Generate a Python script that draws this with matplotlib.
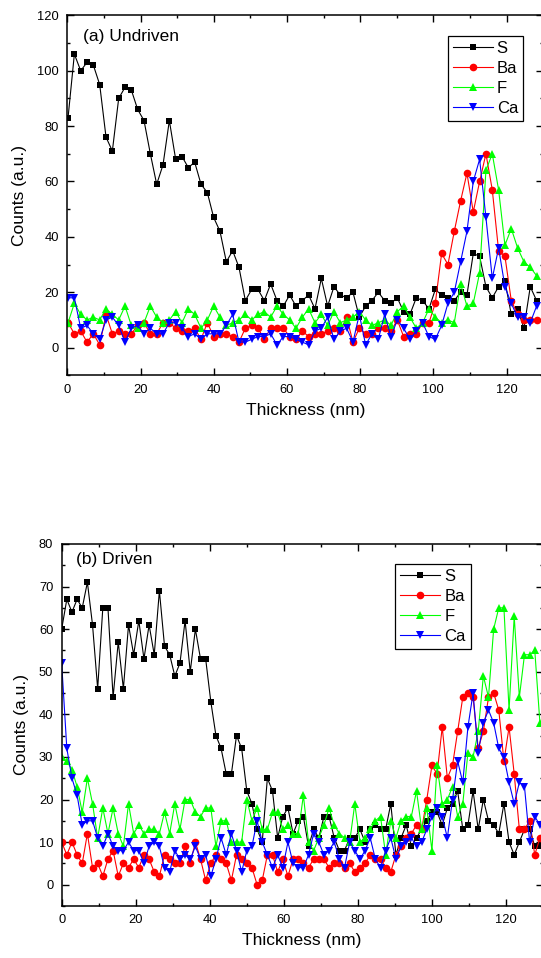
import numpy as np
import matplotlib
matplotlib.use('Agg')
import matplotlib.pyplot as plt
from matplotlib.ticker import MultipleLocator

plt.rcParams['font.family'] = ['Liberation Sans', 'DejaVu Sans']

#------------------------------------------------------------------#
# (a) Undriven : depth grid and counts
start_a, step_a = 0.2, 1.73
s_a = [83, 106, 100, 103, 102, 95, 76, 71, 90, 94, 93, 86, 82, 70, 59, 66, 82, 68, 69, 65,
       67, 59, 56, 47, 42, 31, 35, 29, 17, 21, 21, 17, 23, 17, 15, 19, 15, 17, 19,
       14, 25, 15, 22, 19, 18, 20, 11, 15, 17, 20, 17, 16, 18, 13, 12, 18, 17, 14, 21,
       19, 18, 17, 20, 19, 34, 33, 22, 18, 22, 24, 12, 14, 7, 22, 17]
ba_a = [9, 5, 6, 2, 5, 1, 12, 5, 6, 5, 5, 8, 9, 5, 5, 9, 9, 7, 6, 6,
        7, 3, 9, 4, 5, 5, 4, 2, 7, 8, 7, 3, 7, 7, 7, 4, 3, 6, 4,
        5, 5, 6, 7, 6, 11, 2, 7, 5, 5, 7, 7, 6, 10, 4, 5, 5, 9, 9, 16,
        34, 30, 42, 53, 63, 49, 60, 70, 57, 35, 33, 17, 12, 10, 10, 10]
f_a = [9, 16, 12, 10, 11, 10, 14, 12, 10, 15, 8, 7, 9, 15, 11, 9, 10, 13, 9, 14,
       12, 7, 10, 15, 11, 8, 9, 10, 12, 10, 12, 13, 11, 15, 12, 10, 7, 11, 14, 9,
       12, 8, 13, 9, 10, 11, 13, 10, 8, 9, 10, 8, 13, 15, 11, 7, 9, 14, 11, 9,
       10, 9, 23, 15, 16, 27, 64, 70, 57, 37, 43, 36, 31, 29, 26]
ca_a = [18, 18, 7, 8, 5, 3, 10, 11, 8, 2, 7, 8, 5, 7, 5, 5, 9, 9, 7, 4,
        5, 3, 5, 5, 5, 8, 12, 2, 2, 3, 4, 4, 5, 1, 4, 4, 3, 2, 1,
        6, 7, 11, 3, 6, 7, 2, 12, 1, 5, 3, 12, 4, 10, 7, 3, 6, 9, 4, 3,
        8, 16, 20, 31, 42, 60, 68, 47, 25, 36, 22, 16, 11, 11, 9, 15]

# (b) Driven
start_b, step_b = 0.0, 1.39
s_b = [60, 67, 64, 67, 65, 71, 61, 46, 65, 65, 44, 57, 46, 61, 54, 62, 53, 61, 54, 69,
       56, 54, 49, 52, 62, 50, 60, 53, 53, 43, 35, 32, 26, 26, 35, 32, 22, 19, 13, 10,
       25, 22, 11, 16, 18, 12, 15,
       16, 9, 13, 11, 16, 16, 11, 8, 8, 11, 11, 13, 10, 13, 14, 13, 13, 19, 7, 11,
       14, 9, 11, 13, 15, 17, 17, 14, 18, 19, 22, 13, 14, 22, 13, 20, 15, 14, 12, 19,
       10, 7, 10, 13, 13, 9, 9]
ba_b = [10, 7, 10, 7, 5, 12, 4, 5, 2, 6, 8, 2, 5, 4, 6, 4, 7, 6, 3, 2,
        7, 6, 5, 5, 9, 5, 10, 6, 1, 5, 7, 6, 5, 1, 7, 6, 5, 4, 0, 1,
        7, 7, 3, 6, 2, 6, 6,
        5, 4, 6, 6, 6, 4, 5, 5, 4, 5, 3, 4, 5, 7, 6, 6, 4, 3, 7, 9,
        11, 12, 14, 13, 20, 28, 26, 37, 25, 28, 36, 44, 45, 44, 32, 36, 44, 45, 41, 29,
        37, 26, 13, 13, 15, 7, 11]
f_b = [30, 29, 27, 23, 17, 25, 19, 11, 18, 12, 18, 12, 9, 19, 12, 14, 12, 13, 13, 12,
       17, 12, 19, 13, 20, 20, 17, 16, 18, 18, 9, 15, 15, 10, 10, 10, 20, 15, 18, 13,
       13, 17, 17, 13, 14, 12, 12,
       21, 10, 8, 11, 14, 18, 14, 12, 11, 10, 19, 10, 11, 13, 15, 16, 7, 15, 11, 15,
       16, 16, 22, 13, 18, 8, 28, 19, 20, 23, 16, 19, 31, 30, 36, 49, 44, 60, 65, 65,
       41, 63, 44, 54, 54, 55, 38]
ca_b = [52, 32, 25, 21, 14, 15, 15, 11, 9, 12, 9, 8, 8, 10, 8, 8, 5, 9, 10, 9,
        4, 3, 8, 6, 7, 6, 9, 6, 7, 2, 6, 11, 7, 12, 8, 3, 8, 9, 15, 10,
        7, 4, 7, 4, 10, 5, 4,
        4, 7, 12, 10, 7, 8, 10, 6, 4, 10, 8, 6, 8, 11, 6, 4, 8, 11, 6, 9,
        10, 11, 9, 10, 13, 16, 18, 16, 11, 20, 29, 24, 37, 45, 31, 38, 41, 38, 32, 30,
        24, 19, 24, 23, 10, 16, 14]

labels = ['S', 'Ba', 'F', 'Ca']
colors = ['k', '#ff0000', '#00ff00', '#0000ff']
markers = ['s', 'o', '^', 'v']
msizes = [5, 5.5, 6, 6]

#------------------------------------------------------------------#
def panel(ax, x, series, title, ylim, ymaj, ymin, tpos, lpos):
    for y, lab, c, m, ms in zip(series, labels, colors, markers, msizes):
        ax.plot(x, y, c=c, lw=0.8, marker=m, ms=ms, mec=c, mfc=c, mew=0, label=lab)
    ax.set_xlim(0, 130)
    ax.set_ylim(*ylim)
    ax.xaxis.set_major_locator(MultipleLocator(20))
    ax.xaxis.set_minor_locator(MultipleLocator(10))
    ax.yaxis.set_major_locator(MultipleLocator(ymaj))
    ax.yaxis.set_minor_locator(MultipleLocator(ymin))
    ax.tick_params(which='both', direction='in', top=True, right=True, width=1,
                   labelsize=9.3, pad=6)
    ax.tick_params(which='major', length=5)
    ax.tick_params(which='minor', length=2.5)
    for sp in ax.spines.values():
        sp.set_linewidth(1.1)
    ax.set_xlabel('Thickness (nm)', fontsize=12.5, labelpad=5)
    ax.set_ylabel('Counts (a.u.)', fontsize=12.5, labelpad=7)
    ax.text(tpos[0], tpos[1], title, transform=ax.transAxes, fontsize=12.5, va='center')
    leg = ax.legend(loc='upper right', bbox_to_anchor=lpos, borderaxespad=0,
                    fontsize=12, numpoints=1, handlelength=2.4, handletextpad=0.25,
                    borderpad=0.3, labelspacing=0.3, fancybox=False, framealpha=1,
                    edgecolor='k')
    leg.get_frame().set_linewidth(0.9)


fig = plt.figure(figsize=(5.41, 9.58), dpi=100)

thick_a = start_a + step_a * np.arange(len(s_a))
ax1 = fig.add_axes([0.1244, 0.6082, 0.8795, 0.3758])
panel(ax1, thick_a, [s_a, ba_a, f_a, ca_a], '(a) Undriven', (-10, 120), 20, 10,
      (0.032, 0.94), (0.958, 0.9425))

thick_b = start_b + step_b * np.arange(len(s_b))
ax2 = fig.add_axes([0.1140, 0.0543, 0.889, 0.3779])
panel(ax2, thick_b, [s_b, ba_b, f_b, ca_b], '(b) Driven', (-5, 80), 10, 5,
      (0.029, 0.956), (0.851, 0.944))

fig.savefig('out.png', dpi=100)
